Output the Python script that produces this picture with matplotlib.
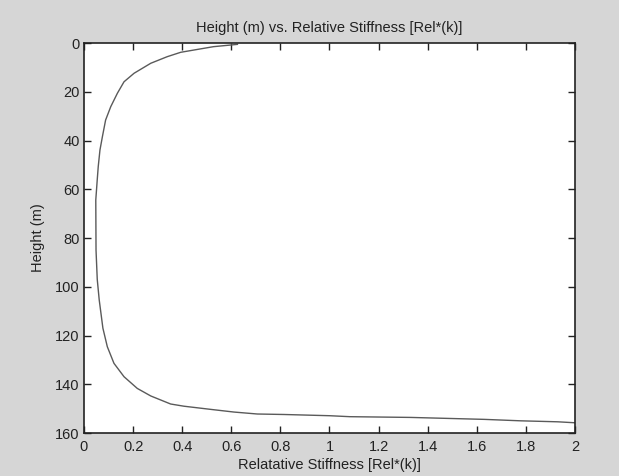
import matplotlib
matplotlib.use("Agg")
import matplotlib.pyplot as plt

# Values
stiffness = [0.625, 0.597, 0.527, 0.394, 0.339, 0.272, 0.204, 0.163, 0.136, 0.109,
             0.088, 0.075, 0.065, 0.058, 0.054, 0.048, 0.049, 0.054, 0.062, 0.077,
             0.095, 0.122, 0.163, 0.217, 0.272, 0.353, 0.407, 0.516, 0.611, 0.706,
             0.815, 1.0, 1.083, 1.33, 1.48, 1.63, 1.78, 1.93, 2.0]
height = [0.55, 0.82, 1.5, 3.8, 5.6, 8.3, 12.4, 15.9, 20.6, 26.1,
          31.6, 38.4, 43.9, 50.7, 56.0, 64.4, 85.0, 97.0, 105.4, 117.0,
          124.6, 131.4, 136.9, 141.7, 144.8, 148.1, 149.0, 150.3, 151.4, 152.2,
          152.4, 152.9, 153.3, 153.6, 154.0, 154.4, 155.0, 155.4, 155.8]

xticks = [0, 0.2, 0.4, 0.6, 0.8, 1, 1.2, 1.4, 1.6, 1.8, 2]
xticklabels = ["0", "0.2", "0.4", "0.6", "0.8", "1", "1.2", "1.4", "1.6", "1.8", "2"]
yticks = [0, 20, 40, 60, 80, 100, 120, 140, 160]

plt.rcParams['font.family'] = ['Liberation Sans', 'DejaVu Sans']
fs = 10.5
txt = '#222222'

fig = plt.figure(figsize=(6.19, 4.76), dpi=100)
fig.patch.set_facecolor('#d6d6d6')
ax = fig.add_axes([0.1357, 0.0903, 0.7932, 0.8193])
ax.set_facecolor('white')

ax.plot(stiffness, height, color='#5a5a5a', linewidth=1.0)

ax.set_xlim(0, 2)
ax.set_ylim(160, 0)
ax.set_xticks(xticks)
ax.set_xticklabels(xticklabels)
ax.set_yticks(yticks)

ax.tick_params(direction='in', length=5, width=1, colors=txt, labelsize=fs,
               top=True, right=True, pad=3)
ax.tick_params(axis='x', pad=5)
for s in ax.spines.values():
    s.set_color(txt)
    s.set_linewidth(1.2)

ax.set_title("Height (m) vs. Relative Stiffness [Rel*(k)]", color=txt,
             fontsize=fs, pad=8)
ax.set_xlabel("Relatative Stiffness [Rel*(k)]", color=txt, fontsize=fs, labelpad=3)
ax.set_ylabel("Height (m)", color=txt, fontsize=fs, labelpad=7)

fig.savefig("out.png", dpi=100, facecolor=fig.get_facecolor())
